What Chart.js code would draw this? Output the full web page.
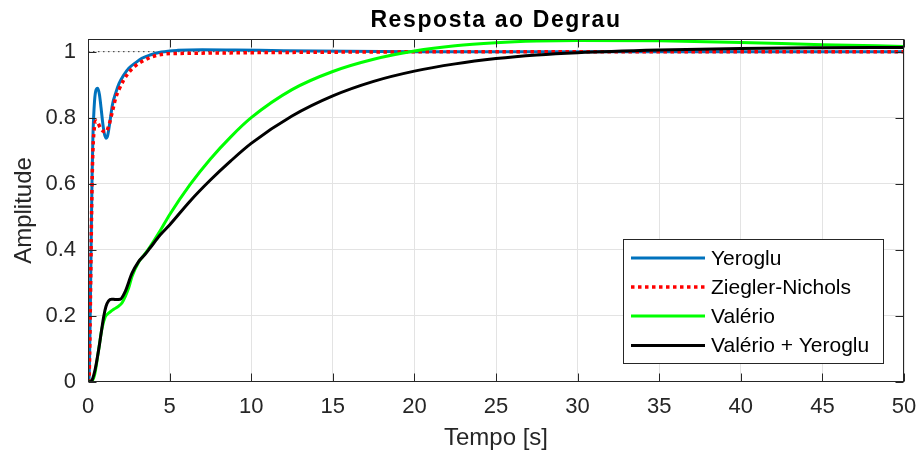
<!DOCTYPE html>
<html>
<head>
<meta charset="utf-8">
<script src="https://cdn.jsdelivr.net/npm/chart.js@4.4.1/dist/chart.umd.min.js"></script>
<style>
  html, body { margin: 0; padding: 0; background: #ffffff; }
  #wrap { width: 919px; height: 454px; }
  canvas { display: block; }
</style>
</head>
<body>
<div id="wrap"><canvas id="c" width="919" height="454"></canvas></div>
<script>
// ---------- data ----------
const chartTitle = 'Resposta ao Degrau';
const xAxisTitle = 'Tempo [s]';
const yAxisTitle = 'Amplitude';
const seriesNames = ['Yeroglu', 'Ziegler-Nichols', 'Valério', 'Valério + Yeroglu'];

const xTickValues = [0, 5, 10, 15, 20, 25, 30, 35, 40, 45, 50];
const yTickValues = [0, 0.2, 0.4, 0.6, 0.8, 1];

const tYeroglu = [0, 0.05, 0.1, 0.15, 0.2, 0.25, 0.3, 0.4, 0.5, 0.6, 0.7, 0.8, 0.9, 1.0, 1.1, 1.2, 1.35, 1.5, 1.7, 1.9, 2.2, 2.5, 2.9, 3.3, 3.8, 4.5, 5.5, 7, 9, 12, 16, 20, 30, 40, 50];
const yYeroglu = [0, 0.0, 0.08, 0.25, 0.45, 0.62, 0.74, 0.85, 0.885, 0.889, 0.87, 0.83, 0.785, 0.752, 0.738, 0.745, 0.79, 0.84, 0.875, 0.903, 0.93, 0.95, 0.966, 0.98, 0.99, 0.999, 1.004, 1.006, 1.005, 1.003, 1.001, 1.0, 1.0, 1.0, 1.0];

const tZiegler = [0, 0.05, 0.1, 0.15, 0.2, 0.25, 0.3, 0.4, 0.5, 0.6, 0.75, 0.9, 1.1, 1.3, 1.5, 1.7, 1.9, 2.2, 2.5, 2.9, 3.3, 3.9, 4.7, 6, 8, 10, 13, 17, 25, 35, 50];
const yZiegler = [0, 0.0, 0.08, 0.25, 0.44, 0.6, 0.7, 0.775, 0.79, 0.785, 0.77, 0.76, 0.757, 0.78, 0.82, 0.86, 0.885, 0.915, 0.937, 0.957, 0.97, 0.984, 0.993, 0.995, 0.996, 0.997, 0.998, 0.999, 1.0, 1.0, 1.0];

const tValerio = [0, 0.2, 0.4, 0.65, 0.85, 1.06, 1.2, 1.37, 1.6, 1.88, 2.1, 2.28, 2.5, 2.69, 3.1, 3.5, 3.8, 4.43, 5, 6.25, 7.5, 8.75, 10, 12.5, 15, 17.5, 20, 22.5, 25, 27.5, 30, 35, 40, 45, 50];
const yValerio = [0, 0, 0.02, 0.096, 0.16, 0.197, 0.205, 0.212, 0.22, 0.229, 0.24, 0.258, 0.285, 0.318, 0.362, 0.388, 0.409, 0.458, 0.506, 0.597, 0.675, 0.742, 0.80, 0.885, 0.94, 0.977, 1.002, 1.018, 1.027, 1.032, 1.034, 1.033, 1.028, 1.021, 1.016];

const tValYer = [0, 0.15, 0.25, 0.45, 0.65, 0.8, 0.96, 1.1, 1.26, 1.45, 1.67, 1.98, 2.28, 2.69, 3.1, 3.5, 3.8, 4.43, 5, 6.25, 7.5, 8.75, 10, 12.5, 15, 17.5, 20, 22.5, 25, 27.5, 30, 35, 40, 45, 50];
const yValYer = [0, 0, 0.005, 0.04, 0.096, 0.145, 0.197, 0.228, 0.245, 0.25, 0.249, 0.25, 0.273, 0.328, 0.364, 0.386, 0.405, 0.445, 0.475, 0.547, 0.611, 0.669, 0.722, 0.805, 0.866, 0.91, 0.941, 0.963, 0.979, 0.99, 0.997, 1.005, 1.01, 1.012, 1.013];

const tSteady = [0, 50];
const ySteady = [1, 1];

// ---------- helpers ----------
const FONT = '"Liberation Sans", Arial, Helvetica, sans-serif';
const INK = '#262626';
function pts(t, y) { return t.map((v, i) => ({ x: v, y: y[i] })); }

const styles = [
  { color: '#0072BD', width: 3, dash: [] },
  { color: '#FF0000', width: 3.5, dash: [3.5, 3.5] },
  { color: '#00FF00', width: 3, dash: [] },
  { color: '#000000', width: 3, dash: [] }
];
const seriesData = [pts(tYeroglu, yYeroglu), pts(tZiegler, yZiegler), pts(tValerio, yValerio), pts(tValYer, yValYer)];
const drawOrder = [4, 3, 2, 1]; // later series on top, as in the reference

const datasets = seriesData.map((d, i) => ({
  label: seriesNames[i],
  data: d,
  borderColor: styles[i].color,
  backgroundColor: styles[i].color,
  borderWidth: styles[i].width,
  borderDash: styles[i].dash,
  borderCapStyle: 'butt',
  cubicInterpolationMode: 'monotone',
  pointRadius: 0,
  fill: false,
  order: drawOrder[i]
}));
datasets.push({
  label: '',
  data: pts(tSteady, ySteady),
  borderColor: '#333333',
  borderWidth: 1,
  borderDash: [1.5, 3.5],
  pointRadius: 0,
  fill: false,
  order: 10
});

// ---------- plugin: MATLAB-like axes box, inward ticks, legend ----------
const matlabAxes = {
  id: 'matlabAxes',
  afterInit(chart) {
    const tb = chart.titleBlock;
    if (tb) {
      const orig = tb.draw.bind(tb);
      tb.draw = function (area) {
        const c = this.ctx;
        c.save();
        try { c.letterSpacing = '1.6px'; } catch (e) {}
        orig(area);
        c.restore();
      };
    }
  },
  afterDatasetsDraw(chart) {
    const { ctx, chartArea: a, scales } = chart;
    ctx.save();
    ctx.strokeStyle = INK;
    ctx.lineWidth = 1;
    const L = Math.round(a.left) + 0.5, R = Math.round(a.right) - 0.5;
    const T = Math.round(a.top) + 0.5, B = Math.round(a.bottom) - 0.5;
    ctx.beginPath();
    xTickValues.forEach(v => {
      const px = Math.round(scales.x.getPixelForValue(v)) + 0.5;
      ctx.moveTo(px, B); ctx.lineTo(px, B - 8);
      ctx.moveTo(px, T); ctx.lineTo(px, T + 8);
    });
    yTickValues.forEach(v => {
      const py = Math.round(scales.y.getPixelForValue(v)) + 0.5;
      ctx.moveTo(L, py); ctx.lineTo(L + 8, py);
      ctx.moveTo(R, py); ctx.lineTo(R - 8, py);
    });
    ctx.stroke();
    ctx.strokeRect(L, T, R - L, B - T);
    ctx.restore();
  },
  afterDraw(chart) {
    const { ctx } = chart;
    const box = { x: 623.5, y: 239.5, w: 260, h: 124 };
    ctx.save();
    ctx.fillStyle = '#ffffff';
    ctx.fillRect(box.x, box.y, box.w, box.h);
    ctx.strokeStyle = INK;
    ctx.lineWidth = 1;
    ctx.strokeRect(box.x, box.y, box.w, box.h);
    ctx.font = '21px ' + FONT;
    ctx.textBaseline = 'middle';
    ctx.textAlign = 'left';
    const rowY = [258, 287, 316, 345.5];
    seriesNames.forEach((name, i) => {
      const y = rowY[i];
      ctx.beginPath();
      ctx.strokeStyle = styles[i].color;
      ctx.lineWidth = styles[i].width;
      ctx.setLineDash(styles[i].dash);
      ctx.lineCap = 'butt';
      ctx.moveTo(631, y);
      ctx.lineTo(705, y);
      ctx.stroke();
      ctx.setLineDash([]);
      ctx.fillStyle = '#000000';
      ctx.fillText(name, 711, y + 1);
    });
    ctx.restore();
  }
};

new Chart(document.getElementById('c'), {
  type: 'line',
  data: { datasets },
  plugins: [matlabAxes],
  options: {
    responsive: false,
    devicePixelRatio: 1,
    animation: false,
    parsing: true,
    layout: { padding: { top: 0, left: 0, right: 15, bottom: 0 } },
    plugins: {
      legend: { display: false },
      tooltip: { enabled: false },
      title: {
        display: true,
        text: chartTitle,
        fullSize: false,
        color: '#000000',
        font: { family: FONT, size: 23, weight: 'bold', lineHeight: 1.2 },
        padding: { top: 6.5, bottom: 5.2 }
      }
    },
    scales: {
      x: {
        type: 'linear',
        min: 0,
        max: 50,
        afterFit(s) { s.height = 72.3; s.paddingLeft = 0; s.paddingRight = 0; },
        afterBuildTicks(s) { s.ticks = xTickValues.map(v => ({ value: v })); },
        grid: { color: '#e3e3e3', lineWidth: 1, drawTicks: false },
        border: { display: false },
        ticks: {
          color: INK,
          font: { family: FONT, size: 22 },
          padding: 12,
          maxRotation: 0,
          autoSkip: false,
          callback: v => String(v)
        },
        title: {
          display: true,
          text: xAxisTitle,
          color: INK,
          font: { family: FONT, size: 24 },
          padding: { top: 0, bottom: 1 }
        }
      },
      y: {
        type: 'linear',
        min: 0,
        max: 1.0375,
        afterFit(s) { s.width = 88; s.paddingTop = 0; s.paddingBottom = 0; },
        afterBuildTicks(s) { s.ticks = yTickValues.map(v => ({ value: v })); },
        grid: { color: '#e3e3e3', lineWidth: 1, drawTicks: false },
        border: { display: false },
        ticks: {
          color: INK,
          font: { family: FONT, size: 22 },
          padding: 12,
          callback: v => String(Number(v.toFixed(1)))
        },
        title: {
          display: true,
          text: yAxisTitle,
          color: INK,
          font: { family: FONT, size: 24 },
          padding: { top: 9.6, bottom: 0 }
        }
      }
    }
  }
});
</script>
</body>
</html>
